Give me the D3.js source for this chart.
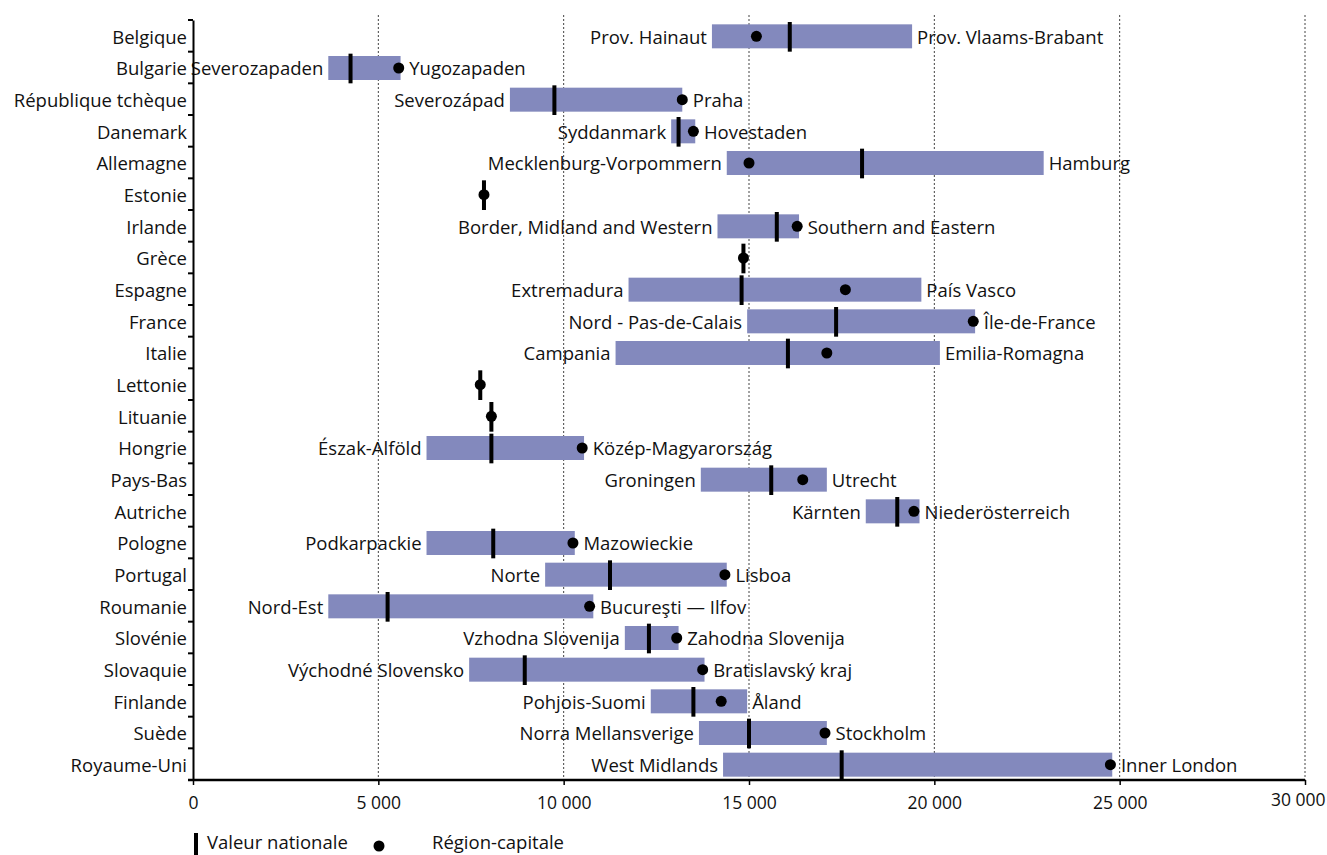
<!DOCTYPE html>
<html>
<head>
    <meta charset="utf-8">
    <title>Écarts régionaux</title>
    <script src="https://d3js.org/d3.v7.min.js"></script>
    <style>
        body { margin: 0; background: #fff; }
        svg text { font-family: 'Open Sans', sans-serif; fill: #111; }
        .grid line { stroke: #444; stroke-width: 1; stroke-dasharray: 2,2; }
    </style>
</head>
<body>
<div id="chart"></div>
<script>
    // pays (ordre de haut en bas)
    const countries = ['Belgique', 'Bulgarie', 'République tchèque', 'Danemark', 'Allemagne', 'Estonie',
        'Irlande', 'Grèce', 'Espagne', 'France', 'Italie', 'Lettonie', 'Lituanie', 'Hongrie', 'Pays-Bas',
        'Autriche', 'Pologne', 'Portugal', 'Roumanie', 'Slovénie', 'Slovaquie', 'Finlande', 'Suède', 'Royaume-Uni'];

    // région la plus basse / la plus haute
    const minValues = [14000, 3650, 8550, 12900, 14400, 7850, 14150, 14850, 11750, 14950, 11400, 7750, 8050,
        6300, 13700, 18150, 6300, 9500, 3650, 11650, 7450, 12350, 13650, 14300];
    const maxValues = [19400, 5600, 13200, 13550, 22950, 7850, 16350, 14850, 19650, 21100, 20150, 7750, 8050,
        10550, 17100, 19600, 10300, 14400, 10800, 13100, 13800, 14950, 17100, 24800];
    const nationalValues = [16100, 4250, 9750, 13100, 18050, 7850, 15750, 14850, 14800, 17350, 16050, 7750, 8050,
        8050, 15600, 19000, 8100, 11250, 5250, 12300, 8950, 13500, 15000, 17500];
    const capitalValues = [15200, 5550, 13200, 13500, 15000, 7850, 16300, 14850, 17600, 21050, 17100, 7750, 8050,
        10500, 16450, 19450, 10250, 14350, 10700, 13050, 13750, 14250, 17050, 24750];

    const minRegions = ['Prov. Hainaut', 'Severozapaden', 'Severozápad', 'Syddanmark', 'Mecklenburg-Vorpommern', '',
        'Border, Midland and Western', '', 'Extremadura', 'Nord - Pas-de-Calais', 'Campania', '', '',
        'Észak-Alföld', 'Groningen', 'Kärnten', 'Podkarpackie', 'Norte', 'Nord-Est', 'Vzhodna Slovenija',
        'Východné Slovensko', 'Pohjois-Suomi', 'Norra Mellansverige', 'West Midlands'];
    const maxRegions = ['Prov. Vlaams-Brabant', 'Yugozapaden', 'Praha', 'Hovestaden', 'Hamburg', '',
        'Southern and Eastern', '', 'País Vasco', 'Île-de-France', 'Emilia-Romagna', '', '',
        'Közép-Magyarország', 'Utrecht', 'Niederösterreich', 'Mazowieckie', 'Lisboa', 'Bucureşti — Ilfov',
        'Zahodna Slovenija', 'Bratislavský kraj', 'Åland', 'Stockholm', 'Inner London'];

    const xTicks = [0, 5000, 10000, 15000, 20000, 25000, 30000];

    const width = 1327, height = 855;
    const plotLeft = 193, plotRight = 1305, plotTop = 20, plotBottom = 780;
    const fontSize = 18.5;
    const dotR = 5.5;

    const rows = countries.map((c, i) => ({
        country: c,
        min: minValues[i], max: maxValues[i],
        national: nationalValues[i], capital: capitalValues[i],
        minRegion: minRegions[i], maxRegion: maxRegions[i]
    }));

    const svg = d3.select('#chart').append('svg')
        .attr('width', width)
        .attr('height', height);

    const x = d3.scaleLinear().domain([0, 30000]).range([plotLeft, plotRight]);
    const y = d3.scaleBand().domain(countries).range([plotTop, plotBottom]).padding(0);
    const step = y.step();
    const barH = 24;

    const fmt = d3.formatLocale({ decimal: ',', thousands: ' ', grouping: [3], currency: ['', ' €'] }).format(',');

    // grille verticale pointillée
    svg.append('g').attr('class', 'grid')
        .selectAll('line')
        .data(xTicks.slice(1))
        .join('line')
        .attr('x1', d => x(d)).attr('x2', d => x(d))
        .attr('y1', 15).attr('y2', plotBottom);

    // barres min-max
    svg.append('g').selectAll('rect')
        .data(rows)
        .join('rect')
        .attr('x', d => x(d.min))
        .attr('y', d => y(d.country) + (step - barH) / 2 + 0.5)
        .attr('width', d => x(d.max) - x(d.min))
        .attr('height', barH)
        .attr('fill', '#8389bd');

    // valeur nationale
    svg.append('g').selectAll('rect')
        .data(rows)
        .join('rect')
        .attr('x', d => x(d.national) - 2)
        .attr('y', d => y(d.country) + 2)
        .attr('width', 4)
        .attr('height', step - 2)
        .attr('fill', '#000');

    // région-capitale
    svg.append('g').selectAll('circle')
        .data(rows)
        .join('circle')
        .attr('cx', d => x(d.capital))
        .attr('cy', d => y(d.country) + step / 2 + 0.5)
        .attr('r', dotR)
        .attr('fill', '#000');

    // noms des régions
    const labels = svg.append('g').style('font-size', fontSize + 'px');
    labels.selectAll('text.min')
        .data(rows.filter(d => d.minRegion))
        .join('text')
        .attr('class', 'min')
        .attr('x', d => x(d.min) - 5)
        .attr('y', d => y(d.country) + step / 2)
        .attr('dy', '0.42em')
        .attr('text-anchor', 'end')
        .text(d => d.minRegion);
    labels.selectAll('text.max')
        .data(rows.filter(d => d.maxRegion))
        .join('text')
        .attr('class', 'max')
        .attr('x', d => Math.max(x(d.max), x(d.capital) + dotR) + 5)
        .attr('y', d => y(d.country) + step / 2)
        .attr('dy', '0.42em')
        .text(d => d.maxRegion);

    // axe des pays
    const yAxis = svg.append('g')
        .attr('transform', `translate(${plotLeft},0)`)
        .call(d3.axisLeft(y).tickSize(0).tickPadding(6));
    yAxis.select('.domain').attr('stroke', '#000').attr('stroke-width', 2);
    yAxis.selectAll('text').style('font-size', fontSize + 'px').attr('fill', '#111').attr('dy', '0.42em');
    yAxis.selectAll('line.sep')
        .data(d3.range(countries.length + 1))
        .join('line')
        .attr('class', 'sep')
        .attr('x1', -5).attr('x2', 0)
        .attr('y1', i => plotTop + i * step).attr('y2', i => plotTop + i * step)
        .attr('stroke', '#000').attr('stroke-width', 2);

    // axe des valeurs
    const xAxis = svg.append('g')
        .attr('transform', `translate(0,${plotBottom})`)
        .call(d3.axisBottom(x).tickValues(xTicks).tickSize(5).tickPadding(12).tickFormat(fmt).tickSizeOuter(0));
    xAxis.select('.domain').attr('stroke', '#000').attr('stroke-width', 2.5)
        .attr('d', `M${plotLeft - 5},0H${plotRight}`);
    xAxis.selectAll('.tick line').attr('stroke', '#000').attr('stroke-width', 1.5);
    xAxis.selectAll('text').style('font-size', '17.5px').attr('fill', '#111');
    // le dernier libellé est décalé pour rester dans le cadre
    xAxis.selectAll('.tick').filter(d => d === 30000).select('text')
        .attr('text-anchor', 'end').attr('x', 20).attr('y', 14);

    // légende
    const legend = svg.append('g').style('font-size', fontSize + 'px');
    legend.append('rect').attr('x', 194).attr('y', 833).attr('width', 4).attr('height', 24).attr('fill', '#000');
    legend.append('text').attr('x', 207).attr('y', 843).attr('dy', '0.35em').text('Valeur nationale');
    legend.append('circle').attr('cx', 379).attr('cy', 846).attr('r', dotR).attr('fill', '#000');
    legend.append('text').attr('x', 432).attr('y', 843).attr('dy', '0.35em').text('Région-capitale');
</script>
</body>
</html>
